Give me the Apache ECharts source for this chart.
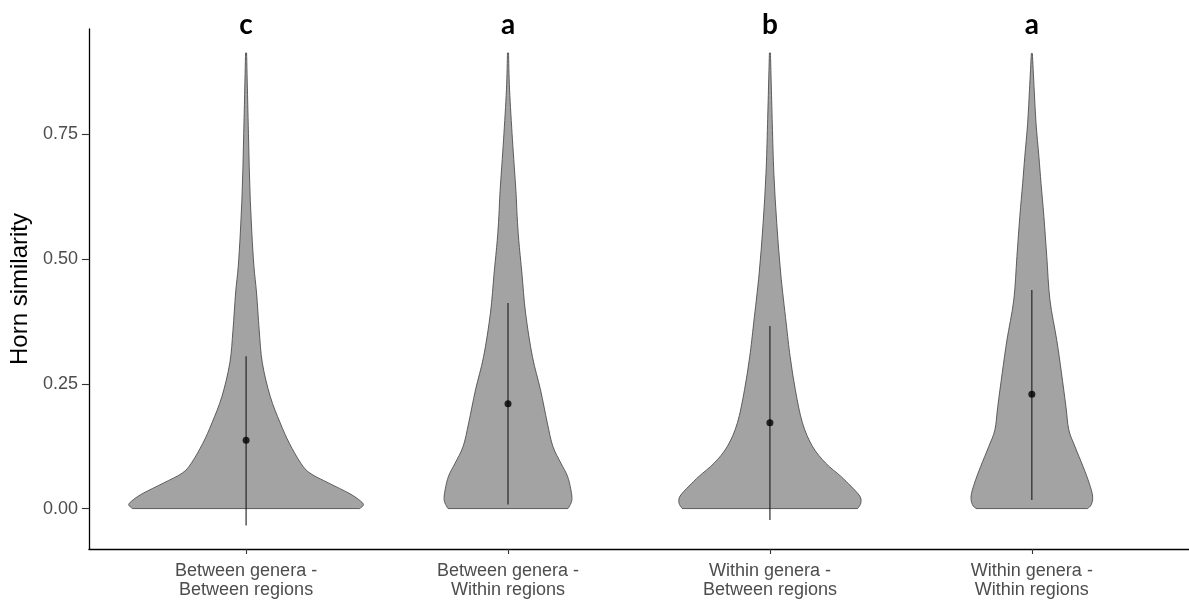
<!DOCTYPE html>
<html>
<head>
<meta charset="utf-8">
<script src="https://cdn.jsdelivr.net/npm/echarts@6/dist/echarts.min.js"></script>
<style>
  html, body { margin: 0; padding: 0; background: #ffffff; }
  #chart { width: 1189px; height: 603px; }
</style>
</head>
<body>
<div id="chart"></div>
<script>
// Category labels along the x axis (positions 1..4 on the value axis)
const categories = [
  'Between genera -\nBetween regions',
  'Between genera -\nWithin regions',
  'Within genera -\nBetween regions',
  'Within genera -\nWithin regions'
];
const groupLetters = ['c', 'a', 'b', 'a'];

// Mean and mean ± sd per group
const meanValues  = [0.137, 0.210, 0.172, 0.229];
const lowerValues = [-0.034, 0.008, -0.023, 0.017];
const upperValues = [0.305, 0.412, 0.366, 0.438];

const yTicks = [0, 0.25, 0.5, 0.75];

// Violin outlines: similarity levels and half-width of the density (in category units)
const bgbrLevels = [0.913, 0.819, 0.752, 0.685, 0.618, 0.552, 0.485, 0.432, 0.358, 0.292, 0.225, 0.172, 0.131, 0.091, 0.071, 0.051, 0.031, 0.018, 0.008, 0.000];
const bgbrWidths = [0.002, 0.006, 0.009, 0.012, 0.016, 0.022, 0.030, 0.040, 0.050, 0.062, 0.092, 0.130, 0.165, 0.209, 0.244, 0.316, 0.392, 0.430, 0.448, 0.434];

const bgwrLevels = [0.913, 0.839, 0.739, 0.638, 0.585, 0.538, 0.472, 0.392, 0.305, 0.238, 0.172, 0.125, 0.091, 0.065, 0.038, 0.018, 0.006, 0.000];
const bgwrWidths = [0.002, 0.006, 0.017, 0.030, 0.035, 0.041, 0.053, 0.067, 0.093, 0.124, 0.150, 0.171, 0.202, 0.227, 0.240, 0.244, 0.236, 0.229];

const wgbrLevels = [0.913, 0.772, 0.672, 0.572, 0.472, 0.372, 0.305, 0.238, 0.172, 0.125, 0.091, 0.065, 0.045, 0.025, 0.011, 0.000];
const wgbrWidths = [0.002, 0.009, 0.015, 0.026, 0.041, 0.062, 0.077, 0.097, 0.124, 0.162, 0.213, 0.270, 0.309, 0.343, 0.347, 0.335];

const wgwrLevels = [0.912, 0.839, 0.772, 0.705, 0.652, 0.585, 0.505, 0.418, 0.338, 0.272, 0.205, 0.158, 0.125, 0.085, 0.051, 0.025, 0.008, 0.000];
const wgwrWidths = [0.002, 0.009, 0.016, 0.027, 0.035, 0.046, 0.057, 0.069, 0.095, 0.113, 0.130, 0.141, 0.164, 0.195, 0.219, 0.232, 0.227, 0.213];

const violins = [
  { levels: bgbrLevels, widths: bgbrWidths },
  { levels: bgwrLevels, widths: bgwrWidths },
  { levels: wgbrLevels, widths: wgbrWidths },
  { levels: wgwrLevels, widths: wgwrWidths }
];

const chart = echarts.init(document.getElementById('chart'), null, { renderer: 'canvas' });

const axisFont = '"Liberation Sans", Arial, sans-serif';

// Catmull-Rom curve through the given pixel points, as SVG cubic segments
function curveThrough(pts, startWithMove) {
  let d = startWithMove ? 'M' + pts[0][0] + ',' + pts[0][1] : 'L' + pts[0][0] + ',' + pts[0][1];
  for (let k = 0; k < pts.length - 1; k++) {
    const p0 = pts[k - 1] || pts[k];
    const p1 = pts[k];
    const p2 = pts[k + 1];
    const p3 = pts[k + 2] || p2;
    const c1x = p1[0] + (p2[0] - p0[0]) / 6;
    const c1y = p1[1] + (p2[1] - p0[1]) / 6;
    const c2x = p2[0] - (p3[0] - p1[0]) / 6;
    const c2y = p2[1] - (p3[1] - p1[1]) / 6;
    d += 'C' + c1x + ',' + c1y + ' ' + c2x + ',' + c2y + ' ' + p2[0] + ',' + p2[1];
  }
  return d;
}

function renderViolin(params, api) {
  const i = api.value(0);
  const v = violins[i - 1];
  const right = [];
  const left = [];
  for (let k = 0; k < v.levels.length; k++) {
    right.push(api.coord([i + v.widths[k], v.levels[k]]));
  }
  for (let k = v.levels.length - 1; k >= 0; k--) {
    left.push(api.coord([i - v.widths[k], v.levels[k]]));
  }
  // right edge runs top -> bottom, flat base, left edge runs bottom -> top
  const d = curveThrough(right, true) + curveThrough(left, false) + 'Z';
  return {
    type: 'path',
    shape: { pathData: d },
    style: { fill: '#a3a3a3', stroke: '#4f4f4f', lineWidth: 0.9 }
  };
}

function renderRange(params, api) {
  const i = api.value(0);
  const p1 = api.coord([i, api.value(1)]);
  const p2 = api.coord([i, api.value(2)]);
  return {
    type: 'line',
    shape: { x1: p1[0], y1: p1[1], x2: p2[0], y2: p2[1] },
    style: { stroke: '#1a1a1a', lineWidth: 1.1 }
  };
}

function renderLetter(params, api) {
  const i = api.value(0);
  const p = api.coord([i, api.value(1)]);
  return {
    type: 'text',
    x: p[0],
    y: p[1],
    style: {
      text: groupLetters[i - 1],
      fill: '#000000',
      font: 'bold 28px Lato, "Open Sans", sans-serif',
      align: 'center',
      verticalAlign: 'middle'
    }
  };
}

const positions = categories.map((c, k) => k + 1);

const option = {
  animation: false,
  backgroundColor: '#ffffff',
  grid: { left: 87, right: 0, top: 29, bottom: 54, containLabel: false },
  xAxis: {
    type: 'value',
    min: 0.4,
    max: 4.6,
    splitLine: { show: false },
    axisLine: { show: true, onZero: false, lineStyle: { color: '#000000', width: 1.3 } },
    axisTick: { show: true, customValues: positions, length: 5, lineStyle: { color: '#333333', width: 1.1 } },
    axisLabel: {
      customValues: positions,
      formatter: (val) => categories[Math.round(val) - 1] || '',
      color: '#4d4d4d',
      fontFamily: axisFont,
      fontSize: 18,
      lineHeight: 19.5,
      margin: 12
    }
  },
  yAxis: {
    type: 'value',
    min: -0.081,
    max: 0.961,
    name: 'Horn similarity',
    nameLocation: 'middle',
    nameGap: 45,
    nameTextStyle: { color: '#000000', fontFamily: axisFont, fontSize: 24 },
    splitLine: { show: false },
    axisLine: { show: true, lineStyle: { color: '#000000', width: 1.3 } },
    axisTick: { show: true, customValues: yTicks, length: 7, lineStyle: { color: '#333333', width: 1.1 } },
    axisLabel: {
      customValues: yTicks,
      formatter: (val) => val.toFixed(2),
      color: '#4d4d4d',
      fontFamily: axisFont,
      fontSize: 18,
      margin: 11
    }
  },
  series: [
    {
      type: 'custom',
      name: 'violin',
      renderItem: renderViolin,
      data: positions.map(p => [p]),
      encode: { x: 0 },
      z: 2
    },
    {
      type: 'custom',
      name: 'sd',
      renderItem: renderRange,
      data: positions.map((p, k) => [p, lowerValues[k], upperValues[k]]),
      encode: { x: 0, y: [1, 2] },
      z: 3
    },
    {
      type: 'scatter',
      name: 'mean',
      symbol: 'circle',
      symbolSize: 7,
      itemStyle: { color: '#000000' },
      data: positions.map((p, k) => [p, meanValues[k]]),
      z: 4
    },
    {
      type: 'custom',
      name: 'letters',
      renderItem: renderLetter,
      clip: false,
      data: positions.map(p => [p, 0.969]),
      encode: { x: 0, y: 1 },
      z: 5
    }
  ]
};

chart.setOption(option);
</script>
</body>
</html>
